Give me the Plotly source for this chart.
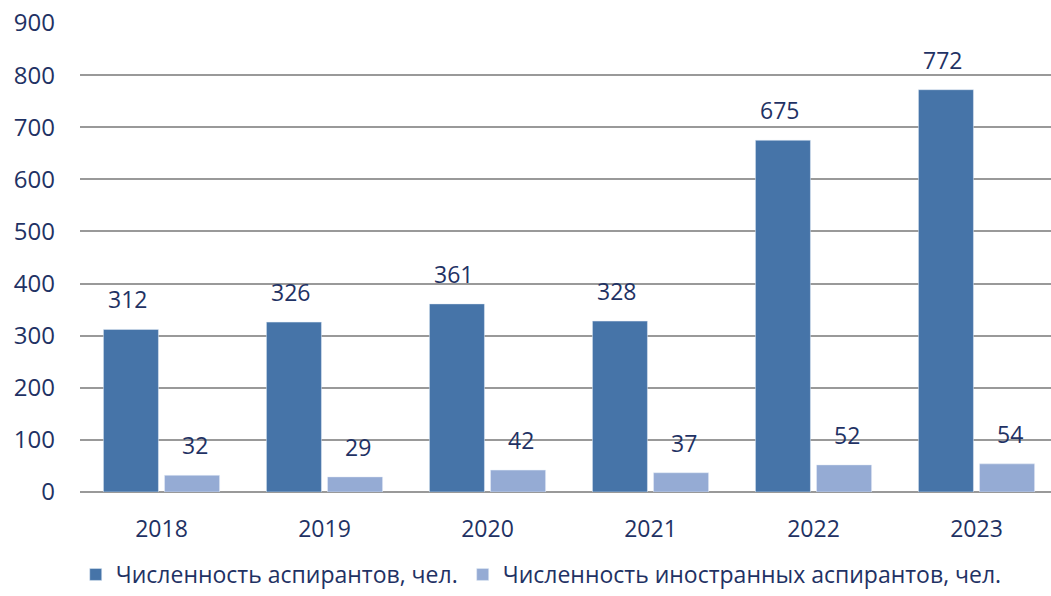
import plotly.graph_objects as go

years = ["2018", "2019", "2020", "2021", "2022", "2023"]
total = [312, 326, 361, 328, 675, 772]
foreign = [32, 29, 42, 37, 52, 54]
name_total = "Численность аспирантов, чел."
name_foreign = "Численность иностранных аспирантов, чел."

DARK = "#4674a8"
LIGHT = "#95abd4"
TXT = "#1f3264"
FONT = "Open Sans"

fig = go.Figure()
fig.add_trace(go.Bar(x=years, y=total, name=name_total, marker_color=DARK, offsetgroup="a"))
fig.add_trace(go.Bar(x=years, y=foreign, name=name_foreign, marker_color=LIGHT, offsetgroup="b"))

ann = []
for i, y in enumerate(years):
    ann.append(dict(x=i, y=total[i], text=str(total[i]), xshift=-34, yshift=12,
                    showarrow=False, yanchor="bottom", font=dict(family=FONT, size=23, color=TXT)))
    ann.append(dict(x=i, y=foreign[i], text=str(foreign[i]), xshift=33, yshift=12,
                    showarrow=False, yanchor="bottom", font=dict(family=FONT, size=23, color=TXT)))

fig.update_layout(
    width=1051, height=596,
    margin=dict(l=80, r=0, t=23, b=104),
    paper_bgcolor="white", plot_bgcolor="white",
    barmode="group", bargap=0.25, bargroupgap=0.1,
    font=dict(family=FONT, color=TXT, size=22),
    annotations=ann,
    showlegend=True,
    legend=dict(orientation="h", x=0.475, xanchor="center", y=-0.2217, yanchor="bottom",
                font=dict(family=FONT, size=23, color=TXT), itemwidth=30, traceorder="normal"),
    xaxis=dict(type="category", showgrid=False, showline=False, ticks="", ticklabelstandoff=21,
               tickfont=dict(family=FONT, size=23, color=TXT), range=[-0.5, 5.457], automargin=False),
    yaxis=dict(range=[0, 900], dtick=100, showgrid=True, gridcolor="#999999", gridwidth=2,
               zeroline=True, zerolinecolor="#999999", zerolinewidth=2,
               showline=False, ticks="", ticklabelstandoff=24, automargin=False,
               tickfont=dict(family=FONT, size=24, color=TXT)),
)

fig.write_html("out.html", config={"displayModeBar": False},
               post_script="document.body.style.margin='0';")
